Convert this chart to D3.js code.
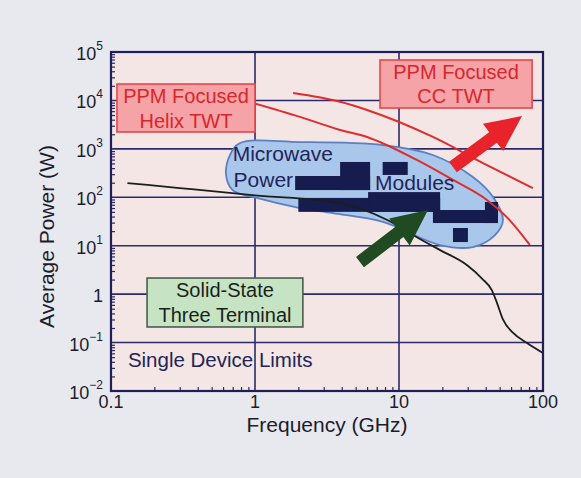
<!DOCTYPE html>
<html>
<head>
<meta charset="utf-8">
<script src="https://cdn.jsdelivr.net/npm/d3@7"></script>
<style>
  body{margin:0;background:#e8e8ef;}
  svg{display:block;font-family:"Liberation Sans",Arial,Helvetica,sans-serif;}
</style>
</head>
<body>
<div id="chart"></div>
<script>
// axis ticks
let xTicks = [0.1, 1, 10, 100];
let xTickLabels = ["0.1", "1", "10", "100"];
let yTicks = [1e-2, 1e-1, 1, 1e1, 1e2, 1e3, 1e4, 1e5];
let yTickBase = ["10", "10", "1", "10", "10", "10", "10", "10"];
let yTickExp = ["\u22122", "\u22121", "", "1", "2", "3", "4", "5"];

// single device limit (solid state)
let limitFreq = [0.13, 0.3, 1, 3.9, 8.3, 13.3, 19.3, 29.6, 37.7, 44.2, 47.9, 52.7, 61.8, 77.4, 100];
let limitPower = [197, 155, 110, 76, 34, 15, 8.1, 4.0, 2.1, 1.2, 0.66, 0.30, 0.16, 0.098, 0.061];

// PPM focused helix TWT
let helixFreq = [0.97, 2.05, 3.9, 6.0, 13.3, 23.7, 40.8, 56, 81];
let helixPower = [8850, 4570, 2460, 1760, 590, 228, 88, 39, 10.4];

// PPM focused coupled cavity TWT
let ccFreq = [1.84, 3.9, 6.0, 17.2, 38.3, 85];
let ccPower = [14200, 9350, 6340, 1760, 510, 155];

// microwave power module region outline
let mpmFreq = [0.787, 2.05, 7.74, 17.2, 32.6, 45, 52.7, 46.4, 32.6, 19.3, 7.74, 3.48, 2.05, 1.03, 0.70, 0.63, 0.67];
let mpmPower = [1320, 1380, 1200, 746, 262, 101, 34, 16.6, 9.4, 10.3, 31, 47, 60, 97, 141, 288, 746];

// MPM data blocks [low, high]
let blockFreq = [[1.9, 6.3], [3.9, 6.3], [7.7, 11.5], [2.0, 19.3], [6.1, 19.3], [17.2, 48.7], [39.5, 48.7], [23.7, 30.1]];
let blockPower = [[141, 275], [141, 536], [289, 536], [50, 97], [50, 128], [29.4, 54.6], [29.4, 80], [11.9, 23.2]];

// arrows [tail, tip]
let redArrowFreq = [23.7, 71.5];
let redArrowPower = [422, 4760];
let greenArrowFreq = [5.36, 15.9];
let greenArrowPower = [4.6, 54.6];

// label boxes
let boxLines = [["PPM Focused", "Helix TWT"], ["PPM Focused", "CC TWT"], ["Solid-State", "Three Terminal"]];
let boxFreq = [[0.11, 1.0], [7.38, 84], [0.178, 2.15]];
let boxPower = [[2230, 21800], [6970, 68400], [0.21, 2.15]];

// free notes
let noteText = ["Single Device Limits", "Microwave", "Power", "Modules"];
let noteFreq = [0.131, 0.70, 0.71, 6.81];
let notePower = [0.031, 561, 163, 141];

let W = 581, H = 478;
let plot = {left: 111, right: 543, top: 52, bottom: 391};
let navy = "#2c2a6a";

let svg = d3.select("#chart").append("svg").attr("width", W).attr("height", H);
svg.append("rect").attr("width", W).attr("height", H).attr("fill", "#e8e8ef");

let x = d3.scaleLog().domain([0.1, 100]).range([plot.left, plot.right]);
let y = d3.scaleLog().domain([1e-2, 1e5]).range([plot.bottom, plot.top]);
let pw = plot.right - plot.left, ph = plot.bottom - plot.top;

svg.append("rect").attr("x", plot.left).attr("y", plot.top).attr("width", pw).attr("height", ph)
  .attr("fill", "#f3e6e4");

// grid
let grid = svg.append("g");
grid.selectAll(".vg").data(xTicks).enter().append("line")
  .attr("x1", d => x(d)).attr("x2", d => x(d)).attr("y1", plot.top).attr("y2", plot.bottom)
  .attr("stroke", navy).attr("stroke-width", 1.6);
grid.selectAll(".hg").data(yTicks).enter().append("line")
  .attr("y1", d => y(d)).attr("y2", d => y(d)).attr("x1", plot.left).attr("x2", plot.right)
  .attr("stroke", navy).attr("stroke-width", 1.6);

// minor ticks
let minorX = [], minorY = [];
[0.1, 1, 10].forEach(b => d3.range(2, 10).forEach(m => minorX.push(b * m)));
[1e-2, 1e-1, 1, 1e1, 1e2, 1e3, 1e4].forEach(b => d3.range(2, 10).forEach(m => minorY.push(b * m)));

let bx = svg.append("g").attr("transform", `translate(0,${plot.bottom})`)
  .call(d3.axisBottom(x).tickValues(minorX).tickSize(-4).tickFormat(""));
let by = svg.append("g").attr("transform", `translate(${plot.left},0)`)
  .call(d3.axisLeft(y).tickValues(minorY).tickSize(-4).tickFormat(""));
[bx, by].forEach(g => {
  g.select(".domain").remove();
  g.selectAll("line").attr("stroke", navy).attr("stroke-width", 1.2);
});

// MPM region
svg.append("path")
  .datum(mpmFreq.map((f, i) => [x(f), y(mpmPower[i])]))
  .attr("d", d3.line().curve(d3.curveCatmullRomClosed.alpha(0.5)))
  .attr("fill", "#a9c7ea").attr("stroke", "#5b7fc4").attr("stroke-width", 1.8);

svg.selectAll(".block").data(blockFreq).enter().append("rect")
  .attr("x", d => x(d[0])).attr("width", d => x(d[1]) - x(d[0]))
  .attr("y", (d, i) => y(blockPower[i][1]))
  .attr("height", (d, i) => y(blockPower[i][0]) - y(blockPower[i][1]))
  .attr("fill", "#161c4e");

// curves
let line = d3.line().curve(d3.curveMonotoneX);
svg.append("path").attr("d", line(limitFreq.map((f, i) => [x(f), y(limitPower[i])])))
  .attr("fill", "none").attr("stroke", "#1b1f1b").attr("stroke-width", 1.8);
svg.append("path").attr("d", line(helixFreq.map((f, i) => [x(f), y(helixPower[i])])))
  .attr("fill", "none").attr("stroke", "#de2d2e").attr("stroke-width", 2);
svg.append("path").attr("d", line(ccFreq.map((f, i) => [x(f), y(ccPower[i])])))
  .attr("fill", "none").attr("stroke", "#de2d2e").attr("stroke-width", 2);

// notes
svg.selectAll(".note").data(noteText).enter().append("text")
  .attr("x", (d, i) => x(noteFreq[i])).attr("y", (d, i) => y(notePower[i]))
  .attr("font-size", (d, i) => i == 0 ? 20.5 : 21)
  .attr("fill", "#22245a").text(d => d);

// arrows
let arrow = (f, p, color) => {
  let x0 = x(f[0]), y0 = y(p[0]), x1 = x(f[1]), y1 = y(p[1]);
  let len = Math.hypot(x1 - x0, y1 - y0);
  let ux = (x1 - x0) / len, uy = (y1 - y0) / len;
  let nx = -uy, ny = ux;
  let sw = 6.5, hw = 17, hl = 36;
  let bxp = x1 - ux * hl, byp = y1 - uy * hl;
  let pts = [
    [x0 + nx * sw, y0 + ny * sw], [bxp + nx * sw, byp + ny * sw], [bxp + nx * hw, byp + ny * hw],
    [x1, y1],
    [bxp - nx * hw, byp - ny * hw], [bxp - nx * sw, byp - ny * sw], [x0 - nx * sw, y0 - ny * sw]
  ];
  svg.append("polygon").attr("points", pts.map(q => q.join(",")).join(" ")).attr("fill", color);
};
arrow(redArrowFreq, redArrowPower, "#e8232b");
arrow(greenArrowFreq, greenArrowPower, "#1f4a22");

// label boxes
let boxFill = ["#f5a3a6", "#f5a3a6", "#c6e4c4"];
let boxStroke = ["#e3474c", "#e3474c", "#4a5e4a"];
let boxTextColor = ["#d9262d", "#d9262d", "#1a1f1a"];
boxLines.forEach((lines, i) => {
  let x0 = x(boxFreq[i][0]), x1 = x(boxFreq[i][1]);
  let yt = y(boxPower[i][1]), yb = y(boxPower[i][0]);
  let g = svg.append("g");
  g.append("rect").attr("x", x0).attr("y", yt).attr("width", x1 - x0).attr("height", yb - yt)
    .attr("fill", boxFill[i]).attr("stroke", boxStroke[i]).attr("stroke-width", 1.6);
  g.selectAll("text").data(lines).enter().append("text")
    .attr("x", (x0 + x1) / 2).attr("y", (d, j) => yt + 19 + j * 24.5)
    .attr("text-anchor", "middle").attr("font-size", 20).attr("fill", boxTextColor[i])
    .text(d => d);
});

// frame
svg.append("rect").attr("x", plot.left).attr("y", plot.top).attr("width", pw).attr("height", ph)
  .attr("fill", "none").attr("stroke", "#201e58").attr("stroke-width", 2.2);

// tick labels
svg.selectAll(".xl").data(xTicks).enter().append("text")
  .attr("x", d => x(d)).attr("y", plot.bottom + 17)
  .attr("text-anchor", "middle").attr("font-size", 18).attr("fill", "#1c1c2c")
  .text((d, i) => xTickLabels[i]);

let yl = svg.selectAll(".yl").data(yTicks).enter().append("text")
  .attr("x", plot.left - 8).attr("y", d => y(d) + 8)
  .attr("text-anchor", "end").attr("font-size", 18).attr("fill", "#1c1c2c");
yl.append("tspan").text((d, i) => yTickBase[i]);
yl.append("tspan").attr("font-size", 12).attr("dy", -10).text((d, i) => yTickExp[i]);

// axis titles
svg.append("text").attr("x", 327).attr("y", 432)
  .attr("text-anchor", "middle").attr("font-size", 21).attr("fill", "#1c1c2c")
  .text("Frequency (GHz)");
svg.append("text").attr("transform", `translate(54,${(plot.top + plot.bottom) / 2 + 15}) rotate(-90)`)
  .attr("text-anchor", "middle").attr("font-size", 21).attr("fill", "#1c1c2c")
  .text("Average Power (W)");
</script>
</body>
</html>
